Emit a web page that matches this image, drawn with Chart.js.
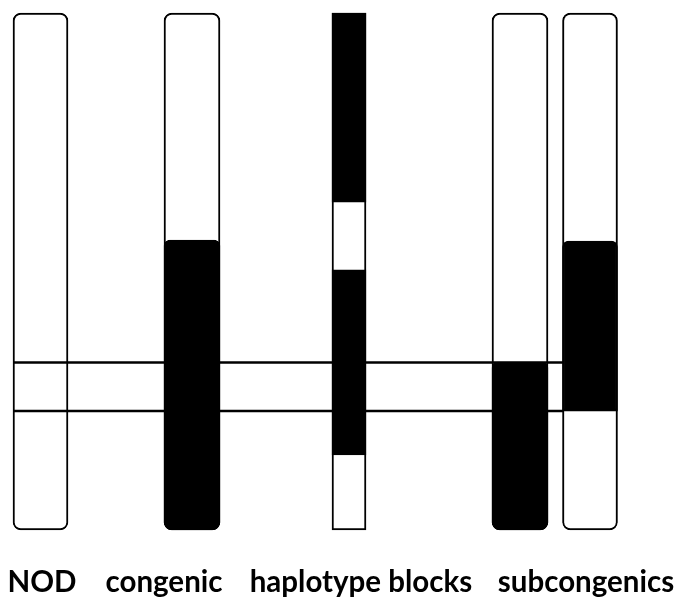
<!DOCTYPE html>
<html>
<head>
<meta charset="utf-8">
<script src="https://cdn.jsdelivr.net/npm/chart.js@4/dist/chart.umd.min.js"></script>
<style>
  html, body { margin: 0; padding: 0; background: #ffffff; }
  #wrap { width: 680px; height: 600px; position: relative; }
</style>
</head>
<body>
<div id="wrap"><canvas id="c"></canvas></div>
<script>
// ---- data (position along the chromosome, % from top) ----
const strains = ['NOD', 'congenic', 'haplotype blocks', 'subcongenic 1', 'subcongenic 2'];
const chromosomeSpan = [0, 100];
const congenicDonor = [[43.9, 100]];
const haplotypeDonor = [[0, 36.6], [49.7, 85.5]];
const subcongenic1Donor = [[67.5, 100]];
const subcongenic2Donor = [[44.1, 77.0]];
const criticalInterval = [67.6, 77.0];
const axisLabels = ['NOD', 'congenic', 'haplotype blocks', 'subcongenics'];

// ---- layout (track centres / widths in x-scale units, label anchors) ----
const trackX = [40.5, 192, 349, 520, 590];
const trackW = [55, 56, 34, 56, 55];
const labelX = [42, 164, 361, 586];
const roundR = 8;

const donorSets = [congenicDonor, haplotypeDonor, subcongenic1Donor, subcongenic2Donor];
const donorTrack = [1, 2, 3, 4];

const datasets = [];

// interval lines (drawn on top)
criticalInterval.forEach(v => {
  datasets.push({
    type: 'line',
    data: [{ x: trackX[0] - trackW[0] / 2, y: v }, { x: trackX[4] - trackW[4] / 2 + 1, y: v }],
    borderColor: '#000',
    borderWidth: 2.5,
    pointRadius: 0,
    clip: false,
    order: 0
  });
});

// donor (black) segments
donorSets.forEach((segs, k) => {
  const t = donorTrack[k];
  const rounded = t !== 2;
  segs.forEach(seg => {
    datasets.push({
      type: 'bar',
      data: [{ x: trackX[t], y: seg }],
      backgroundColor: '#000',
      borderColor: '#000',
      borderWidth: 2,
      borderSkipped: false,
      barThickness: trackW[t],
      borderRadius: rounded ? {
        topLeft: seg[0] <= 0 ? roundR : 6,
        topRight: seg[0] <= 0 ? roundR : 6,
        bottomLeft: seg[1] >= 100 ? roundR : 0,
        bottomRight: seg[1] >= 100 ? roundR : 0
      } : { topLeft: 0, topRight: 0, bottomLeft: 0, bottomRight: 0 },
      grouped: false,
      clip: false,
      order: 1
    });
  });
});

// chromosome outlines (white)
strains.forEach((s, i) => {
  const r = i === 2 ? 0 : roundR;
  datasets.push({
    type: 'bar',
    label: s,
    data: [{ x: trackX[i], y: chromosomeSpan }],
    backgroundColor: '#fff',
    borderColor: '#000',
    borderWidth: 2,
    borderSkipped: false,
    barThickness: trackW[i],
    borderRadius: { topLeft: r, topRight: r, bottomLeft: r, bottomRight: r },
    grouped: false,
    clip: false,
    order: 2
  });
});

new Chart(document.getElementById('c'), {
  type: 'bar',
  data: { datasets },
  options: {
    responsive: true,
    maintainAspectRatio: false,
    animation: false,
    events: [],
    layout: { padding: { top: 13, left: 0, right: 0, bottom: 0 } },
    plugins: { legend: { display: false }, tooltip: { enabled: false } },
    scales: {
      x: {
        type: 'linear',
        min: 0,
        max: 680,
        offset: false,
        grid: { display: false, drawTicks: false },
        border: { display: false },
        afterBuildTicks: (scale) => { scale.ticks = labelX.map(v => ({ value: v })); },
        afterFit: (scale) => {
          scale.height = 70;
          scale.paddingLeft = 0;
          scale.paddingRight = 0;
        },
        ticks: {
          autoSkip: false,
          maxRotation: 0,
          minRotation: 0,
          padding: 35,
          color: '#000',
          font: { family: 'Lato', weight: 'bold', size: 29.5 },
          callback: (v, i) => axisLabels[i]
        }
      },
      y: {
        type: 'linear',
        display: false,
        reverse: true,
        min: 0,
        max: 100
      }
    }
  }
});
</script>
</body>
</html>
